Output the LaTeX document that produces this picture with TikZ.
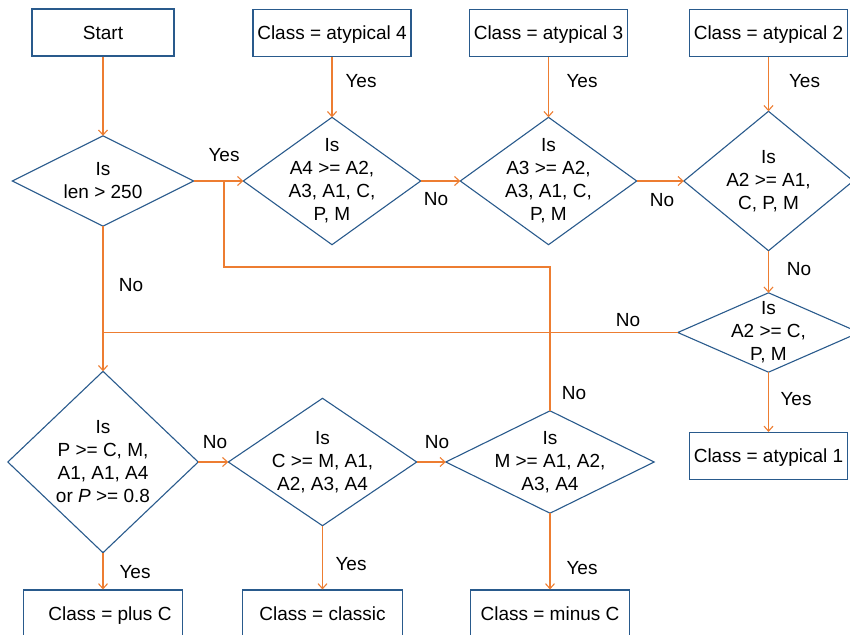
\documentclass[tikz,border=0pt]{standalone}
\usepackage{fontspec}
\setmainfont{Liberation Sans}
\usetikzlibrary{arrows.meta}
\definecolor{boxblue}{RGB}{41,90,140}
\definecolor{flow}{RGB}{237,125,49}
\newcommand{\decnode}[6]{%
  \node[decarea, minimum width=#4, minimum height=#5] (#1) at (#2,#3) {#6};
  \draw[decline] (#1.north) -- (#1.east) -- (#1.south) -- (#1.west) -- cycle;}
\begin{document}
\begin{tikzpicture}[x=1pt,y=-1pt,
  font=\fontsize{19}{23}\selectfont,
  procbox/.style={draw=boxblue, line width=1.1pt, minimum width=158pt, minimum height=47pt, inner sep=0pt, text height=13.6pt, text depth=0pt},
  decarea/.style={inner sep=0pt, align=center},
  decline/.style={draw=boxblue, line width=1.1pt, line join=miter},
  flowline/.style={draw=flow, line width=1.1pt},
  flowarrow/.style={flowline, -{Straight Barb[length=5pt,width=9pt]}},
  lbl/.style={inner sep=0pt}
]
\useasboundingbox (0,0) rectangle (850,634);

% top boxes
\node[procbox, minimum width=142pt] (start) at (103,32.5) {Start};
\node[procbox] (atyp4) at (332,33) {Class = atypical 4};
\node[procbox] (atyp3) at (548.5,33) {Class = atypical 3};
\node[procbox] (atyp2) at (768.5,33) {Class = atypical 2};

% decisions
\decnode{dlen}{103}{181}{181pt}{90pt}{Is\\len > 250}
\decnode{dfour}{332}{181}{177pt}{127pt}{Is\\A4 >= A2,\\A3, A1, C,\\P, M}
\decnode{dthree}{548.5}{181}{176pt}{127pt}{Is\\A3 >= A2,\\A3, A1, C,\\P, M}
\decnode{dtwoa}{768.5}{181}{169pt}{139pt}{Is\\A2 >= A1,\\C, P, M}
\decnode{dtwob}{768.5}{332.5}{181pt}{79pt}{Is\\A2 >= C,\\P, M}
\decnode{dplus}{103}{462}{190pt}{181pt}{Is\\P >= C, M,\\A1, A1, A4\\or \textit{P} >= 0.8}
\decnode{dclassic}{322.5}{462}{188pt}{127pt}{Is\\C >= M, A1,\\A2, A3, A4}
\decnode{dminus}{550}{462}{208pt}{102pt}{Is\\M >= A1, A2,\\A3, A4}

% result boxes
\node[procbox] (atyp1) at (768.5,456) {Class = atypical 1};
\node[procbox, minimum width=159pt] (plusc) at (103,613.5) {\hspace*{14pt}Class = plus C};
\node[procbox, minimum width=160pt] (classic) at (322.5,613.5) {Class = classic};
\node[procbox, minimum width=159pt] (minusc) at (550,613.5) {Class = minus C};

% connector helper points
\coordinate (loopjoin) at (224,181);
\coordinate (loopturn) at (224,267);
\coordinate (nojoin) at (103,332.5);

% connectors
\draw[flowarrow] (start.south) -- (dlen.north);
\draw[flowarrow] (atyp4.south) -- (dfour.north);
\draw[flowarrow] (atyp3.south) -- (dthree.north);
\draw[flowarrow] (atyp2.south) -- (dtwoa.north);
\draw[flowarrow] (dlen.east) -- (dfour.west);
\draw[flowline] (dminus.north) |- (loopturn) -- (loopjoin);
\draw[flowarrow] (dfour.east) -- (dthree.west);
\draw[flowarrow] (dthree.east) -- (dtwoa.west);
\draw[flowarrow] (dtwoa.south) -- (dtwob.north);
\draw[flowline] (dtwob.west) -- (nojoin);
\draw[flowarrow] (dlen.south) -- (dplus.north);
\draw[flowarrow] (dtwob.south) -- (atyp1.north);
\draw[flowarrow] (dplus.east) -- (dclassic.west);
\draw[flowarrow] (dclassic.east) -- (dminus.west);
\draw[flowarrow] (dplus.south) -- (plusc.north);
\draw[flowarrow] (dclassic.south) -- (classic.north);
\draw[flowarrow] (dminus.south) -- (minusc.north);

% labels
\node[lbl] (l1) at (361,81) {Yes};
\node[lbl] (l2) at (582,81) {Yes};
\node[lbl] (l3) at (804.5,81) {Yes};
\node[lbl] (l4) at (224,155) {Yes};
\node[lbl] (l5) at (131,285) {No};
\node[lbl] (l6) at (436,199) {No};
\node[lbl] (l7) at (662,200) {No};
\node[lbl] (l8) at (799,269) {No};
\node[lbl] (l9) at (628,320) {No};
\node[lbl] (l10) at (574,393) {No};
\node[lbl] (l11) at (796,399) {Yes};
\node[lbl] (l12) at (215,442) {No};
\node[lbl] (l13) at (437,442) {No};
\node[lbl] (l14) at (135,572) {Yes};
\node[lbl] (l15) at (351,564) {Yes};
\node[lbl] (l16) at (582,568) {Yes};
\end{tikzpicture}
\end{document}
